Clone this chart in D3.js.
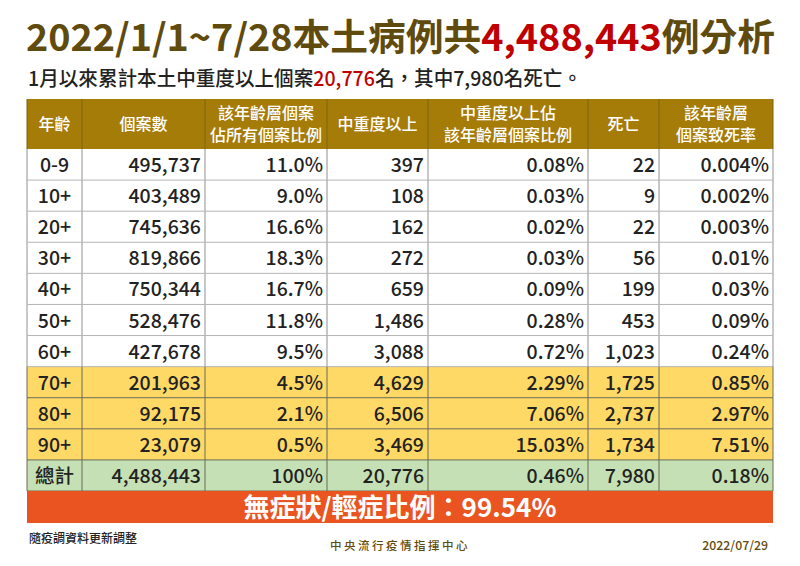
<!DOCTYPE html>
<html>
<head>
<meta charset="utf-8">
<script src="https://cdn.jsdelivr.net/npm/d3@7"></script>
<style>
  html, body { margin: 0; background: #fff; }
  svg { display: block; }
  text { font-family: "Noto Sans CJK TC", "Noto Sans", sans-serif; }
</style>
</head>
<body>
<svg></svg>
<script>
const ages = ['0-9', '10+', '20+', '30+', '40+', '50+', '60+', '70+', '80+', '90+', '總計'];
const cases = [495737, 403489, 745636, 819866, 750344, 528476, 427678, 201963, 92175, 23079, 4488443];
const casePct = ['11.0%', '9.0%', '16.6%', '18.3%', '16.7%', '11.8%', '9.5%', '4.5%', '2.1%', '0.5%', '100%'];
const severe = [397, 108, 162, 272, 659, 1486, 3088, 4629, 6506, 3469, 20776];
const severePct = ['0.08%', '0.03%', '0.02%', '0.03%', '0.09%', '0.28%', '0.72%', '2.29%', '7.06%', '15.03%', '0.46%'];
const deaths = [22, 9, 22, 56, 199, 453, 1023, 1725, 2737, 1734, 7980];
const deathRate = ['0.004%', '0.002%', '0.003%', '0.01%', '0.03%', '0.09%', '0.24%', '0.85%', '2.97%', '7.51%', '0.18%'];
const headers = [
  ['年齡'],
  ['個案數'],
  ['該年齡層個案', '佔所有個案比例'],
  ['中重度以上'],
  ['中重度以上佔', '該年齡層個案比例'],
  ['死亡'],
  ['該年齡層', '個案致死率']
];

const w = 800;
const h = 566;
const fmt = d3.format(',');

const columns = [
  ages,
  cases.map(fmt),
  casePct,
  severe.map(fmt),
  severePct,
  deaths.map(fmt),
  deathRate
];

const edges = [27, 82, 205, 327, 428, 588, 659, 773];
const gold = '#a67c09';
const brown = '#5f4b0e';
const red = '#c00000';

const svg = d3.select('svg').attr('width', w).attr('height', h);

const yScale = d3.scaleBand().domain(ages).range([149, 491]);

function rowFill(age) {
  if (age === '總計') return '#c5e0b4';
  if (age === '70+' || age === '80+' || age === '90+') return '#ffd966';
  return '#fff';
}

// title
const title = svg
  .append('text')
  .attr('x', 26)
  .attr('y', 51)
  .attr('textLength', 749)
  .attr('lengthAdjust', 'spacingAndGlyphs')
  .style('font-size', '37px')
  .style('font-weight', 700)
  .attr('fill', brown);
title.append('tspan').text('2022/1/1~7/28本土病例共');
title.append('tspan').attr('fill', red).text('4,488,443');
title.append('tspan').text('例分析');

// subtitle
const sub = svg
  .append('text')
  .attr('x', 28)
  .attr('y', 86)
  .attr('textLength', 554)
  .attr('lengthAdjust', 'spacingAndGlyphs')
  .style('font-size', '20px')
  .style('font-weight', 500)
  .attr('fill', '#222');
sub.append('tspan').text('1月以來累計本土中重度以上個案');
sub.append('tspan').attr('fill', red).text('20,776');
sub.append('tspan').text('名，其中7,980名死亡。');

// header band
svg
  .append('rect')
  .attr('x', edges[0])
  .attr('y', 99)
  .attr('width', edges[7] - edges[0])
  .attr('height', 50)
  .attr('fill', gold);

headers.forEach((lines, i) => {
  const cx = (edges[i] + edges[i + 1]) / 2;
  lines.forEach((line, j) => {
    svg
      .append('text')
      .text(line)
      .attr('x', cx)
      .attr('y', 124 + (j - (lines.length - 1) / 2) * 22 + 5.5)
      .attr('text-anchor', 'middle')
      .style('font-size', '16px')
      .style('font-weight', 500)
      .attr('fill', '#fff');
  });
});

// row backgrounds
svg
  .selectAll('rect.row')
  .data(ages)
  .enter()
  .append('rect')
  .attr('class', 'row')
  .attr('x', edges[0])
  .attr('y', d => yScale(d))
  .attr('width', edges[7] - edges[0])
  .attr('height', yScale.bandwidth())
  .attr('fill', d => rowFill(d));

// horizontal lines
svg
  .selectAll('line.hline')
  .data(ages)
  .enter()
  .append('line')
  .attr('class', 'hline')
  .attr('x1', edges[0])
  .attr('x2', edges[7])
  .attr('y1', d => yScale(d) + yScale.bandwidth())
  .attr('y2', d => yScale(d) + yScale.bandwidth())
  .attr('stroke', d => (rowFill(d) === '#fff' ? '#b5b5b5' : '#6b6b55'))
  .attr('stroke-width', 1);

// vertical lines, one run per row so they darken on the coloured rows
edges.forEach(x => {
  svg
    .append('line')
    .attr('x1', x)
    .attr('x2', x)
    .attr('y1', 99)
    .attr('y2', 149)
    .attr('stroke', '#7d6412')
    .attr('stroke-width', 1);
  svg
    .append('g')
    .selectAll('line')
    .data(ages)
    .enter()
    .append('line')
    .attr('x1', x)
    .attr('x2', x)
    .attr('y1', d => yScale(d))
    .attr('y2', d => yScale(d) + yScale.bandwidth())
    .attr('stroke', d => (rowFill(d) === '#fff' ? '#b5b5b5' : '#6b6b55'))
    .attr('stroke-width', d => (rowFill(d) === '#fff' ? 1.5 : 1));
});

// cells
columns.forEach((col, i) => {
  svg
    .append('g')
    .selectAll('text')
    .data(col)
    .enter()
    .append('text')
    .text(d => d)
    .attr('x', i === 0 ? (edges[0] + edges[1]) / 2 : edges[i + 1] - 4)
    .attr('y', (d, r) => yScale(ages[r]) + yScale.bandwidth() / 2 + 7.5)
    .attr('text-anchor', i === 0 ? 'middle' : 'end')
    .style('font-size', '19.5px')
    .style('font-weight', 500)
    .attr('fill', '#222');
});

// orange band
svg
  .append('rect')
  .attr('x', edges[0])
  .attr('y', 491)
  .attr('width', edges[7] - edges[0])
  .attr('height', 32)
  .attr('fill', '#e95420');
svg
  .append('text')
  .text('無症狀/輕症比例：99.54%')
  .attr('x', 400)
  .attr('y', 517)
  .attr('text-anchor', 'middle')
  .style('font-size', '26px')
  .style('font-weight', 700)
  .attr('fill', '#fff');

// footer
svg
  .append('text')
  .text('隨疫調資料更新調整')
  .attr('x', 29)
  .attr('y', 543)
  .style('font-size', '12px')
  .style('font-weight', 500)
  .attr('fill', '#222');
svg
  .append('text')
  .text('中央流行疫情指揮中心')
  .attr('x', 400)
  .attr('y', 550)
  .attr('text-anchor', 'middle')
  .style('font-size', '11.5px')
  .style('letter-spacing', '2.5px')
  .style('font-weight', 500)
  .attr('fill', brown);
svg
  .append('text')
  .text('2022/07/29')
  .attr('x', 768)
  .attr('y', 550)
  .attr('text-anchor', 'end')
  .style('font-size', '12.3px')
  .style('font-weight', 500)
  .attr('fill', brown);
</script>
</body>
</html>
